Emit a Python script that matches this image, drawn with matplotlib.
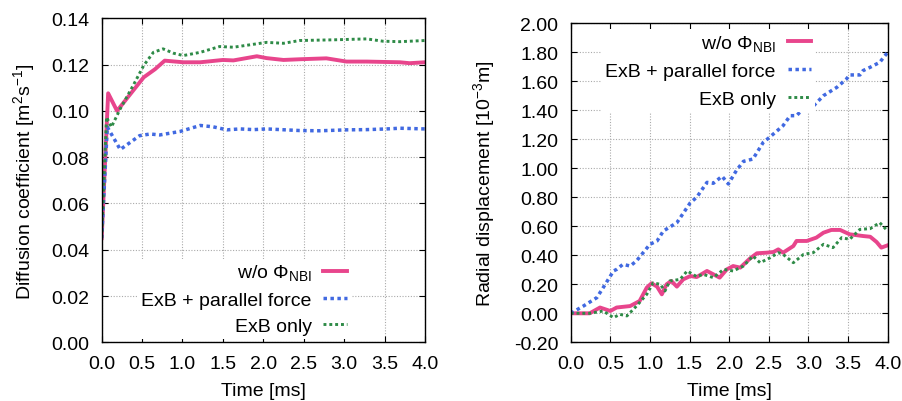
import numpy as np
import matplotlib
matplotlib.use('Agg')
from matplotlib import pyplot as plt
from matplotlib.ticker import FormatStrFormatter, MultipleLocator

plt.rcParams['font.family'] = ['Liberation Sans', 'DejaVu Sans']
plt.rcParams['mathtext.fontset'] = 'custom'
plt.rcParams['mathtext.rm'] = 'Liberation Sans'
plt.rcParams['mathtext.it'] = 'Liberation Sans:italic'
plt.rcParams['font.size'] = 14

# diffusion coefficient (left panel)
t_dp = [0.0, 0.08, 0.19, 0.39, 0.52, 0.66, 0.78, 1.01, 1.22, 1.5, 1.63, 1.92, 2.04,
        2.25, 2.45, 2.78, 3.03, 3.28, 3.69, 3.81, 4.0]
d_pink = [0.045, 0.1076, 0.100, 0.1088, 0.1145, 0.118, 0.1217, 0.121, 0.121, 0.122,
          0.1218, 0.1236, 0.1228, 0.122, 0.1223, 0.1227, 0.1213, 0.1213, 0.121, 0.1206, 0.121]

t_db = [0.0, 0.07, 0.23, 0.47, 0.6, 0.72, 0.97, 1.22, 1.38, 1.55, 1.71, 1.88, 2.04,
        2.45, 2.7, 3.03, 3.28, 3.53, 3.69, 4.0]
d_blue = [0.045, 0.093, 0.0833, 0.0893, 0.090, 0.0896, 0.0911, 0.0937, 0.0931, 0.0918,
          0.0922, 0.0919, 0.0922, 0.0915, 0.0914, 0.0918, 0.0919, 0.0922, 0.0925, 0.0922]

t_dg = [0.0, 0.06, 0.12, 0.23, 0.39, 0.52, 0.64, 0.76, 0.89, 1.01, 1.22, 1.46, 1.63,
        2.04, 2.25, 2.45, 2.87, 3.28, 3.48, 3.69, 4.0]
d_green = [0.045, 0.0973, 0.093, 0.1009, 0.111, 0.1196, 0.1253, 0.1268, 0.1249, 0.1239,
           0.1253, 0.1278, 0.1275, 0.1296, 0.1292, 0.1304, 0.1307, 0.1311, 0.1301, 0.1299, 0.1304]

# radial displacement (right panel)
t_rb = [0.0, 0.16, 0.33, 0.41, 0.54, 0.58, 0.66, 0.75, 0.83, 1.0, 1.09, 1.17, 1.34, 1.51,
        1.59, 1.72, 1.80, 1.91, 1.99, 2.09, 2.18, 2.30, 2.43, 2.51, 2.68, 2.77, 2.85,
        2.98, 3.06, 3.19, 3.36, 3.48, 3.52, 3.65, 3.69, 3.78, 3.90, 4.0]
r_blue = [0.0, 0.05, 0.108, 0.177, 0.292, 0.303, 0.338, 0.326, 0.361, 0.476, 0.499, 0.568,
          0.625, 0.763, 0.80, 0.903, 0.897, 0.945, 0.892, 0.984, 1.048, 1.064, 1.179, 1.214,
          1.294, 1.363, 1.363, 1.437, 1.428, 1.501, 1.559, 1.616, 1.644, 1.644, 1.674, 1.697,
          1.731, 1.80]

t_rp = [0.0, 0.24, 0.37, 0.5, 0.58, 0.75, 0.87, 0.96, 1.02, 1.09, 1.15, 1.21, 1.27, 1.34,
        1.42, 1.51, 1.59, 1.72, 1.80, 1.88, 1.97, 2.05, 2.14, 2.26, 2.35, 2.47, 2.56, 2.62,
        2.68, 2.81, 2.85, 2.98, 3.10, 3.19, 3.29, 3.40, 3.52, 3.69, 3.78, 3.86, 3.92, 4.0]
r_pink = [0.0, 0.0, 0.04, 0.016, 0.04, 0.05, 0.085, 0.177, 0.207, 0.184, 0.131, 0.20, 0.223,
          0.184, 0.234, 0.257, 0.25, 0.292, 0.269, 0.246, 0.303, 0.326, 0.315, 0.377, 0.414,
          0.418, 0.423, 0.441, 0.418, 0.464, 0.499, 0.499, 0.522, 0.556, 0.575, 0.575, 0.545,
          0.533, 0.528, 0.492, 0.453, 0.469]

t_rg = [0.0, 0.24, 0.41, 0.54, 0.62, 0.71, 0.83, 0.96, 1.04, 1.13, 1.19, 1.25, 1.38, 1.47,
        1.59, 1.67, 1.80, 1.93, 2.05, 2.18, 2.30, 2.39, 2.52, 2.62, 2.68, 2.81, 2.94, 3.06,
        3.19, 3.31, 3.42, 3.52, 3.65, 3.78, 3.90, 4.0]
r_green = [0.0, 0.0, 0.016, -0.03, -0.007, -0.018, 0.05, 0.131, 0.21, 0.2, 0.154, 0.223,
           0.234, 0.292, 0.253, 0.269, 0.246, 0.303, 0.292, 0.326, 0.395, 0.349, 0.384, 0.418,
           0.407, 0.349, 0.407, 0.418, 0.476, 0.453, 0.522, 0.51, 0.579, 0.584, 0.625, 0.568]

labels = [r'w/o $\Phi_{\rm NBI}$', 'ExB + parallel force', 'ExB only']
c_pink = '#e8458c'
c_blue = '#4169e1'
c_green = '#2e8b47'

fig = plt.figure(figsize=(9.03, 4.02), dpi=100)
ax1 = fig.add_axes([0.1126, 0.146, 0.358, 0.806])
ax2 = fig.add_axes([0.632, 0.146, 0.351, 0.7935])


def style(ax):
    ax.grid(True, color='#aaaaaa', linestyle=(0, (1, 1.5)), linewidth=0.8)
    ax.set_axisbelow(True)
    ax.tick_params(direction='in', top=True, right=True, length=4, width=0.8,
                   labelsize=14, pad=9)
    for s in ax.spines.values():
        s.set_linewidth(1.0)
    ax.set_xlim(0, 4)
    ax.xaxis.set_major_locator(MultipleLocator(0.5))
    ax.xaxis.set_major_formatter(FormatStrFormatter('%.1f'))
    ax.set_xlabel('Time [ms]', fontsize=14, labelpad=7)


ax1.plot(t_dp, d_pink, color=c_pink, lw=2.8, label=labels[0])
ax1.plot(t_db, d_blue, color=c_blue, lw=2.5, ls=(0, (1, 1)), label=labels[1])
ax1.plot(t_dg, d_green, color=c_green, lw=2.1, ls=(0, (1, 1)), label=labels[2])
style(ax1)
ax1.set_ylim(0, 0.14)
ax1.yaxis.set_major_locator(MultipleLocator(0.02))
ax1.yaxis.set_major_formatter(FormatStrFormatter('%.2f'))
ax1.set_ylabel(r'Diffusion coefficient [m$^2$s$^{-1}$]', fontsize=14, labelpad=10)
ax1.legend(loc='lower right', bbox_to_anchor=(0.77, 0.01), markerfirst=False, frameon=True,
           framealpha=1, edgecolor='none', fancybox=False, handlelength=1.2,
           labelspacing=0.45, borderpad=0.2, borderaxespad=0, handletextpad=0.6, fontsize=14)

ax2.plot(t_rp, r_pink, color=c_pink, lw=2.8, label=labels[0])
ax2.plot(t_rb, r_blue, color=c_blue, lw=2.5, ls=(0, (1, 1)), label=labels[1])
ax2.plot(t_rg, r_green, color=c_green, lw=2.1, ls=(0, (1, 1)), label=labels[2])
style(ax2)
ax2.set_ylim(-0.2, 2.0)
ax2.yaxis.set_major_locator(MultipleLocator(0.2))
ax2.yaxis.set_major_formatter(FormatStrFormatter('%.2f'))
ax2.set_ylabel(r'Radial displacement [10$^{-3}$m]', fontsize=14, labelpad=12)
ax2.legend(loc='upper right', bbox_to_anchor=(0.77, 0.982), markerfirst=False, frameon=True,
           framealpha=1, edgecolor='none', fancybox=False, handlelength=1.2,
           labelspacing=0.5, borderpad=0.2, borderaxespad=0, handletextpad=0.6, fontsize=14)

fig.savefig('out.png', dpi=100)
